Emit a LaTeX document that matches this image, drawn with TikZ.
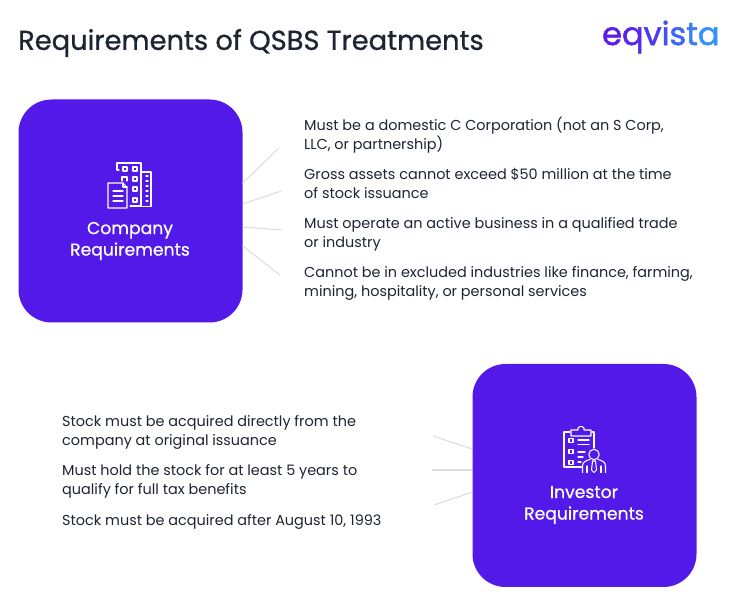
\documentclass[tikz,border=0pt]{standalone}
\usepackage{fontspec}
\setmainfont{Poppins}
\newfontfamily\heavierfont{Poppins}[FakeBold=0.8]
\newfontfamily\logofont{Poppins}[FakeBold=1.6]
\definecolor{boxpurple}{HTML}{5219E9}
\definecolor{inktext}{HTML}{1E2532}
\definecolor{linkgrey}{HTML}{DEDEDE}
\definecolor{la}{HTML}{5A1EE8}
\definecolor{lb}{HTML}{5528EA}
\definecolor{lc}{HTML}{4C3AEE}
\definecolor{ld}{HTML}{4650F0}
\definecolor{le}{HTML}{3F66F3}
\definecolor{lf}{HTML}{3A7CF5}
\definecolor{lg}{HTML}{3592F8}
\tikzset{
  x=1pt,y=-1pt,
  reqbox/.style={fill=boxpurple,rounded corners=33pt,minimum width=224pt,minimum height=223pt,inner sep=0pt},
  boxtitle/.style={text=white,font=\heavierfont\fontsize{17.2}{21.5}\selectfont,align=center,inner sep=0pt},
  listtext/.style={text=inktext,font=\fontsize{14.42}{19}\selectfont,align=left,anchor=west,inner sep=0pt},
  link/.style={draw=linkgrey,line width=1.1pt},
  icon/.style={draw=white,line width=1.05pt,line join=round,line cap=round},
}
\begin{document}
\begin{tikzpicture}
\useasboundingbox (0,0) rectangle (740,612);
\fill[white] (0,0) rectangle (740,612);
\node[text=inktext,anchor=west,inner sep=0pt,font=\heavierfont\fontsize{27.3}{32}\selectfont] (title) at (18,43) {Requirements of QSBS Treatments};
\node[anchor=west,inner sep=0pt,font=\logofont\fontsize{32}{34}\selectfont] (logo) at (602,37) {\textcolor{la}{e}\textcolor{lb}{q}\textcolor{lc}{v}\textcolor{ld}{i}\textcolor{le}{s}\textcolor{lf}{t}\textcolor{lg}{a}};

\node[reqbox] (company) at (130.5,211) {};
\node[reqbox] (investor) at (584.5,475.5) {};

\node[boxtitle] (companylabel) at (130,241) {Company\\Requirements};
\node[boxtitle] (investorlabel) at (584,505) {Investor\\Requirements};

% company icon
\begin{scope}[icon]
\draw (119,170) -- (117,170) -- (117,163) -- (141,163) -- (141,206) -- (130,206);
\draw (141,172) -- (151,172) -- (151,206.5) -- (141,206.5);
\foreach \yy in {167,177,187,198}{\draw (133,\yy) rectangle (137,\yy+4);}
\foreach \yy in {167}{\draw (123,\yy) rectangle (127,\yy+4);}
\draw (122,181) -- (122,177) -- (127,177) -- (127,181);
\foreach \yy in {176,181,186,191,196,201}{\draw (146,\yy) -- (148,\yy);}
\draw (108,183) -- (123,183) -- (127,187) -- (127,208) -- (108,208) -- cycle;
\draw (123,183) -- (123,187) -- (127,187);
\foreach \yy in {191,196,201}{\draw (113,\yy) -- (123,\yy);}
\end{scope}

% investor icon
\begin{scope}[icon]
\draw (570,432) -- (564,432) -- (564,467) -- (582,467);
\draw (594,448) -- (594,432) -- (592,432);
\draw (571,436) -- (571,430) -- (578,430) -- (578,428) .. controls (579,426) and (583,426) .. (584,428) -- (584,430) -- (591,430) -- (591,436) -- cycle;
\foreach \yy in {441,452,463}{\draw (569,\yy-2.5) rectangle (573,\yy+1.5);}
\draw (578,440) -- (589,440);
\draw (578,444.5) -- (589,444.5);
\draw (578,452) -- (585,452);
\draw (578,457) -- (583,457);
\draw (578,462) -- (581,462);
\draw (594,454.5) circle (5.2);
\draw (582.5,472.5) -- (582.5,466) .. controls (582.5,462) and (586,460.5) .. (590,459.5);
\draw (605.5,472.5) -- (605.5,466) .. controls (605.5,462) and (602,460.5) .. (598,459.5);
\draw (587,472.5) -- (587,466);
\draw (601,472.5) -- (601,466);
\draw (592.5,461) -- (595.5,461) -- (596.5,470) -- (594,472.5) -- (591.5,470) -- cycle;
\end{scope}

% connectors, company
\coordinate (c1) at (279,148);
\coordinate (c2) at (281,191);
\coordinate (c3) at (282,230);
\coordinate (c4) at (280,275);
\coordinate (b1) at (company.east |- 0,183);
\coordinate (b2) at (company.east |- 0,204);
\coordinate (b3) at (company.east |- 0,227);
\coordinate (b4) at (company.east |- 0,246);
\draw[link] (b1) -- (c1);
\draw[link] (b2) -- (c2);
\draw[link] (b3) -- (c3);
\draw[link] (b4) -- (c4);

% connectors, investor
\coordinate (i1) at (433,436);
\coordinate (i2) at (432,470);
\coordinate (i3) at (434,505);
\coordinate (d1) at (investor.west |- 0,449);
\coordinate (d2) at (investor.west |- 0,470);
\coordinate (d3) at (investor.west |- 0,492);
\draw[link] (d1) -- (i1);
\draw[link] (d2) -- (i2);
\draw[link] (d3) -- (i3);

% lists
\node[listtext] (t1) at (304,135.5) {Must be a domestic C Corporation (not an S Corp,\\LLC, or partnership)};
\node[listtext] (t2) at (304,183.5) {Gross assets cannot exceed \$50 million at the time\\of stock issuance};
\node[listtext] (t3) at (304,234) {Must operate an active business in a qualified trade\\or industry};
\node[listtext] (t4) at (304,283) {Cannot be in excluded industries like finance, farming,\\mining, hospitality, or personal services};
\node[listtext] (t5) at (62,432.5) {Stock must be acquired directly from the\\company at original issuance};
\node[listtext] (t6) at (62,481.5) {Must hold the stock for at least 5 years to\\qualify for full tax benefits};
\node[listtext] (t7) at (62,521.5) {Stock must be acquired after August 10, 1993};
\end{tikzpicture}
\end{document}
